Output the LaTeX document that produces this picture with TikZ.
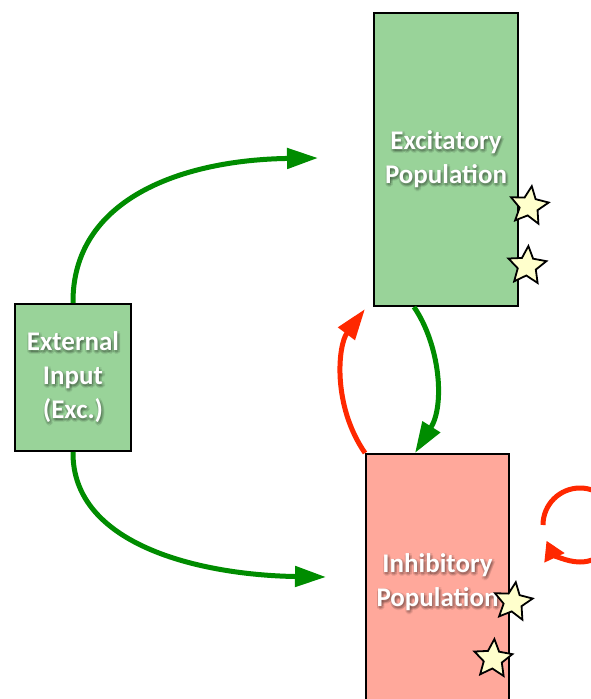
\documentclass[tikz,border=0pt]{standalone}
\usepackage{fontspec}
\setmainfont{Carlito}
\usetikzlibrary{arrows.meta, shapes.geometric}

\definecolor{popgreen}{RGB}{153,211,153}
\definecolor{poppink}{RGB}{255,168,155}
\definecolor{excarrow}{RGB}{0,140,0}
\definecolor{inharrow}{RGB}{255,40,0}
\definecolor{starfill}{RGB}{255,255,204}

\tikzset{
  popbox/.style={draw=black, line width=2pt, anchor=north west, inner sep=0pt},
  poptext/.style={text=white, font=\bfseries\fontsize{27}{34}\selectfont, align=center},
  excite/.style={draw=excarrow, line width=5pt, -{Triangle[length=31pt,width=20pt]}},
  inhibit/.style={draw=inharrow, line width=5pt, -{Triangle[length=31pt,width=20pt]}},
  marker/.style={star, star points=5, star point ratio=2.1, minimum size=40pt,
    inner sep=0pt, draw=black, line width=1.8pt, fill=starfill},
}

% white label with a soft dark shadow
\newcommand{\poplabel}[3]{%
  \foreach \dx/\dy in {1/1.5,3/1.5,-1/1.5,1/3.5,1/-0.5,2.4/3,-0.4/3,2.4/0,-0.4/0}
    \node[poptext, text=black, opacity=0.08] at ([shift={(\dx pt,-\dy pt)}]#2) {#3};
  \node[poptext] (#1) at (#2) {#3};
}

\begin{document}
\begin{tikzpicture}[x=1pt, y=-1pt]
    \useasboundingbox (0,0) rectangle (590,699);

    % Populations
    \node[popbox, fill=popgreen, minimum width=144pt, minimum height=293pt] (exc) at (373,12) {};
    \node[popbox, fill=popgreen, minimum width=116pt, minimum height=147pt] (ext) at (14,303) {};
    \node[popbox, fill=poppink, minimum width=143pt, minimum height=257pt] (inh) at (365,453) {};

    \poplabel{exclabel}{exc.center}{Excitatory\\Population}
    \poplabel{extlabel}{ext.center}{External\\Input\\(Exc.)}
    \poplabel{inhlabel}{inh.center}{Inhibitory\\Population}

    % Connections
    \coordinate (excin) at (318,158);
    \coordinate (inhin) at (326,577);
    \coordinate (loopc) at (580,525);
    \draw[excite] (ext.north) .. controls (72,200) and (180,160) .. (excin);
    \draw[excite] (ext.south) .. controls (72,545) and (200,575) .. (inhin);
    \draw[excite] ([xshift=-32pt]exc.south) .. controls (440,345) and (445,405) .. ([xshift=-22.5pt]inh.north);
    \draw[inhibit] (inh.north west) .. controls (332,405) and (338,345) .. ([xshift=-8pt,yshift=-2pt]exc.south west);
    \draw[inhibit, -{Triangle[length=19pt,width=21pt]}] ([shift={(180:37)}]loopc) arc[start angle=180, end angle=515, radius=37];

    % Stars
    \node[marker, rotate=-8] (s1) at (529,206) {};
    \node[marker, rotate=-4] (s2) at (527,266) {};
    \node[marker, rotate=-8] (s3) at (513,602) {};
    \node[marker, rotate=-4] (s4) at (493,659) {};
\end{tikzpicture}
\end{document}
